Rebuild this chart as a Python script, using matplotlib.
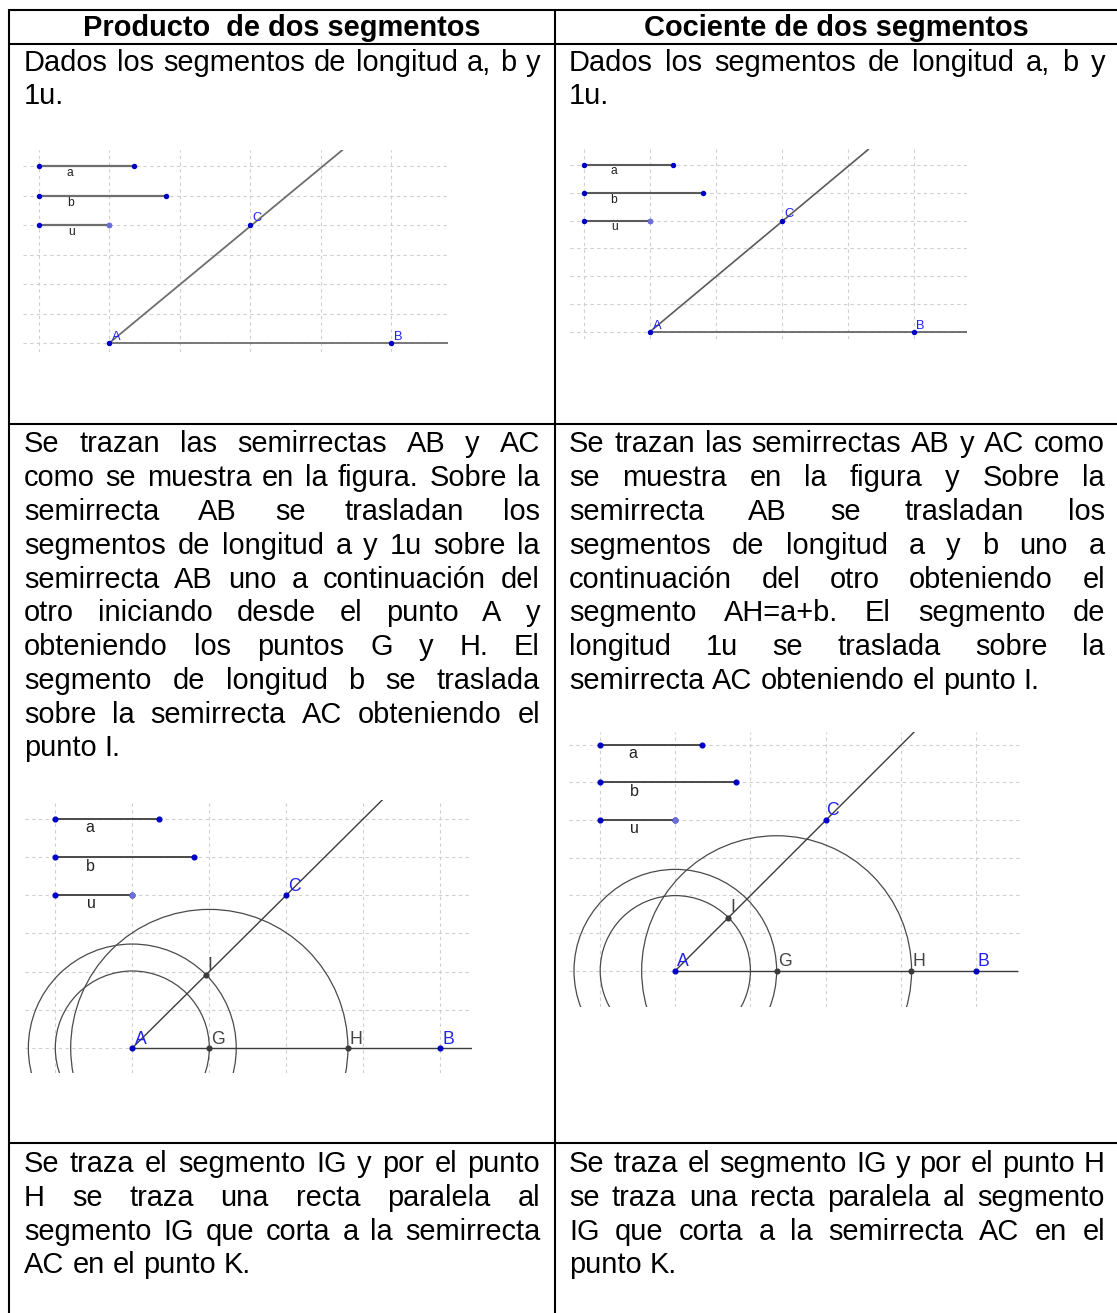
# Tabla: producto y cociente de dos segmentos (construcciones con GeoGebra)
import matplotlib
matplotlib.use("Agg")
import matplotlib.pyplot as plt
from matplotlib.patches import Ellipse

ANCHO = 1117
ALTO = 1313

# Textos de la tabla, linea por linea
titulos = ["Producto  de dos segmentos", "Cociente de dos segmentos"]
dados = ["Dados los segmentos de longitud a, b y", "1u."]
trazan_izq = ["Se trazan las semirrectas AB y AC",
              "como se muestra en la figura. Sobre la",
              "semirrecta AB se trasladan los",
              "segmentos de longitud a y 1u sobre la",
              "semirrecta AB uno a continuación del",
              "otro iniciando desde el punto A y",
              "obteniendo los puntos G y H. El",
              "segmento de longitud b se traslada",
              "sobre la semirrecta AC obteniendo el",
              "punto I."]
trazan_der = ["Se trazan las semirrectas AB y AC como",
              "se muestra en la figura y Sobre la",
              "semirrecta AB se trasladan los",
              "segmentos de longitud a y b uno a",
              "continuación del otro obteniendo el",
              "segmento AH=a+b. El segmento de",
              "longitud 1u se traslada sobre la",
              "semirrecta AC obteniendo el punto I."]
segmento_izq = ["Se traza el segmento IG y por el punto",
                "H se traza una recta paralela al",
                "segmento IG que corta a la semirrecta",
                "AC en el punto K."]
segmento_der = ["Se traza el segmento IG y por el punto H",
                "se traza una recta paralela al segmento",
                "IG que corta a la semirrecta AC en el",
                "punto K."]

# Valores de las figuras, en unidades de la cuadricula (A es el origen)
rejilla_x = [-1, 0, 1, 2, 3, 4]
rejilla_y = [0, 1, 2, 3, 4, 5, 6]
punto_b = (4, 0)
punto_c = (2, 4)

fin_a = [0.355, 0.354, 0.35, 0.35]
fin_b = [0.804, 0.803, 0.80, 0.803]
fin_rayo = [(3.305, 6.54), (3.305, 6.55), (3.265, 6.53), (3.18, 6.336)]
fin_eje = [4.8, 4.82, 4.45, 4.55]

punto_g = [None, None, (1.0, 0), (1.349, 0)]
punto_h = [None, None, (2.80, 0), (3.145, 0)]
punto_i = [None, None, (0.96, 1.9), (0.705, 1.407)]

# Circunferencias: centro en x y radio, en unidades horizontales
circ_centro = [0, 0, 1.0]
circ_radio_izq = [1.0, 1.35, 1.80]
circ_centro_der = [0, 0, 1.349]
circ_radio_der = [1.0, 1.349, 1.797]

# Ventana de cada figura en pixeles: izq, arriba, der, abajo, x de A, y de A, px por unidad
ventanas = [(23, 150, 448, 352, 109.3, 343, 70.5, 29.5),
            (570, 149, 967, 339, 650, 331.7, 66, 27.8),
            (25, 800, 472, 1072.7, 132.3, 1048, 77, 38.2),
            (569, 732, 1022, 1006.7, 675.3, 970.7, 75.1, 37.67)]
tam_letra = [8.7, 8.7, 11.5, 11.5]
tam_punto = [9.3, 9.3, 12.7, 12.7]
gris_linea = ["#6e6e6e", "#5a5a5a", "#3c3c3c", "#3c3c3c"]
grosor = [1.3, 1.2, 1.0, 1.0]
radio_punto = [2.9, 2.9, 3.4, 3.4]

plt.rcParams['font.family'] = ['Liberation Sans', 'DejaVu Sans']

fig = plt.figure(figsize=(ANCHO / 100, ALTO / 100), dpi=100)
fondo = fig.add_axes([0, 0, 1, 1])
fondo.set_xlim(0, ANCHO)
fondo.set_ylim(ALTO, 0)
fondo.axis('off')

# Lineas de la tabla
x_izq = 8.5
x_med = 555
for y in [9.5, 43.5, 424, 1143]:
    fondo.plot([x_izq, ANCHO], [y, y], color='black', lw=1.5, solid_capstyle='butt')
for x in [x_izq, x_med]:
    fondo.plot([x, x], [9, ALTO], color='black', lw=1.5, solid_capstyle='butt')

renderer = fig.canvas.get_renderer()
TAM = 20.9


def parrafo(lineas, x0, x1, y0):
    # Texto justificado: se coloca palabra por palabra salvo en la ultima linea
    for n, linea in enumerate(lineas):
        y = y0 + n * 33.8
        palabras = linea.split(" ")
        textos = [fondo.text(x0, y, p, fontsize=TAM, va='baseline', ha='left', color='black') for p in palabras]
        anchos = [t.get_window_extent(renderer).width for t in textos]
        if n < len(lineas) - 1 or len(lineas) == 1:
            hueco = (x1 - x0 - sum(anchos)) / max(len(palabras) - 1, 1)
        else:
            hueco = TAM * 100 / 72 * 0.278
        x = x0
        for t, w in zip(textos, anchos):
            t.set_x(x)
            x = x + w + hueco


fondo.text(282, 35.5, titulos[0], fontsize=TAM, fontweight='bold', ha='center', va='baseline')
fondo.text(836, 35.5, titulos[1], fontsize=TAM, fontweight='bold', ha='center', va='baseline')
parrafo(dados, 24, 540, 70.7)
parrafo(dados, 569, 1105, 70.7)
parrafo(trazan_izq, 24, 540, 452.3)
parrafo(trazan_der, 569, 1105, 452.3)
parrafo(segmento_izq, 24, 540, 1172)
parrafo(segmento_der, 569, 1105, 1172)

# Posicion de las etiquetas en cada figura
etq_a = [(-0.557, 5.75), (-0.55, 5.77), (-0.55, 5.78), (-0.56, 5.77)]
etq_b = [(-0.543, 4.75), (-0.545, 4.75), (-0.55, 4.76), (-0.55, 4.75)]
etq_u = [(-0.53, 3.77), (-0.53, 3.78), (-0.53, 3.77), (-0.54, 3.77)]
etq_pa = [(0.105, 0.21), (0.107, 0.2), (0.11, 0.23), (0.1, 0.24)]
etq_pb = [(4.1, 0.21), (4.09, 0.2), (4.1, 0.23), (4.1, 0.24)]
etq_pc = [(2.09, 4.25), (2.1, 4.23), (2.1, 4.24), (2.09, 4.25)]
etq_pg = [None, None, (1.11, 0.23), (1.457, 0.24)]
etq_ph = [None, None, (2.9, 0.23), (3.24, 0.24)]
etq_pi = [None, None, (1.01, 2.17), (0.77, 1.67)]


def figura(k):
    izq, arr, der, aba, xa, ya, ux, uy = ventanas[k]
    ax = fig.add_axes([izq / ANCHO, 1 - aba / ALTO, (der - izq) / ANCHO, (aba - arr) / ALTO])
    ax.set_xlim((izq - xa) / ux, (der - xa) / ux)
    ax.set_ylim((ya - aba) / uy, (ya - arr) / uy)
    ax.set_xticks(rejilla_x)
    ax.set_yticks(rejilla_y)
    ax.tick_params(length=0, labelbottom=False, labelleft=False)
    for lado in ax.spines.values():
        lado.set_visible(False)
    ax.grid(True, color='#cfcfcf', ls=(0, (3, 3)), lw=0.8)
    ax.set_axisbelow(True)

    color = gris_linea[k]
    lw = grosor[k]
    ms = radio_punto[k]

    # Semirrectas AB y AC
    ax.plot([0, fin_eje[k]], [0, 0], color=color, lw=lw, zorder=3)
    ax.plot([0, fin_rayo[k][0]], [0, fin_rayo[k][1]], color=color, lw=lw, zorder=3)

    # Segmentos a, b y u
    for fin, y in zip([fin_a[k], fin_b[k], 0], [6, 5, 4]):
        ax.plot([-1, fin], [y, y], color=color, lw=lw + 0.3, zorder=3)
        ax.plot([-1, fin], [y, y], ls='none', marker='o', ms=ms, color='#0000c8', zorder=4)
    ax.plot([0], [4], marker='o', ms=ms, color='#6f6fd8', zorder=5)

    # Puntos A, B y C
    ax.plot([0, punto_b[0], punto_c[0]], [0, punto_b[1], punto_c[1]], ls='none', marker='o', ms=ms,
            color='#0000c8', zorder=5)

    # Circunferencias y puntos G, H, I solo en las figuras de abajo
    if punto_g[k] is not None:
        radios = circ_radio_izq if k == 2 else circ_radio_der
        centros = circ_centro if k == 2 else circ_centro_der
        for c, r in zip(centros, radios):
            ax.add_patch(Ellipse((c, 0), 2 * r, 2 * r * ux / uy, fill=False, ec='#4a4a4a', lw=0.9, zorder=2))
        for p in [punto_g[k], punto_h[k], punto_i[k]]:
            ax.plot([p[0]], [p[1]], marker='o', ms=ms, color='#3a3a3a', zorder=5)
        for p, txt in zip([etq_pg[k], etq_ph[k], etq_pi[k]], ["G", "H", "I"]):
            ax.text(p[0], p[1], txt, fontsize=tam_punto[k], color='#444444', ha='center', va='center', zorder=6)

    for p, txt in zip([etq_a[k], etq_b[k], etq_u[k]], ["a", "b", "u"]):
        ax.text(p[0], p[1], txt, fontsize=tam_letra[k], color='#222222', ha='center', va='center', zorder=6)
    for p, txt in zip([etq_pa[k], etq_pb[k], etq_pc[k]], ["A", "B", "C"]):
        ax.text(p[0], p[1], txt, fontsize=tam_punto[k], color='#2222ee', ha='center', va='center', zorder=6)


for k in range(4):
    figura(k)

plt.savefig("out.png", dpi=100)
plt.close()
